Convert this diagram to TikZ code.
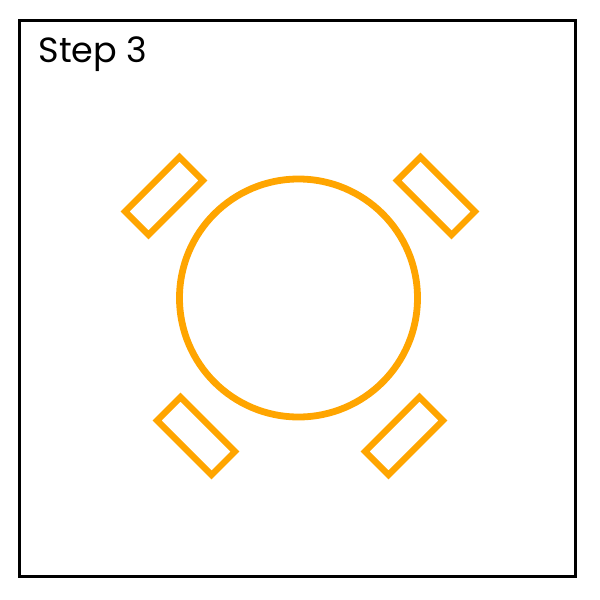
\documentclass[tikz,border=0pt]{standalone}
\usepackage{fontspec}
\setmainfont{Poppins}
\definecolor{tableorange}{RGB}{255,165,0}
\begin{document}
\begin{tikzpicture}[x=1pt,y=-1pt,
  frame/.style={draw=black, line width=2.7pt},
  tablering/.style={circle, draw=tableorange, line width=6.8pt, inner sep=0pt, minimum size=238pt},
  chair/.style={rectangle, draw=tableorange, line width=6.3pt, inner sep=0pt, minimum width=77pt, minimum height=33pt}]
\useasboundingbox (0,0) rectangle (600,600);
\draw[frame] (19.5,20.5) rectangle (575.5,576.3);
\node[anchor=base west, inner sep=0pt, font=\fontsize{35}{42}\selectfont] (title) at (38.5,62.5) {Step 3};
\node[tablering] (table) at (298.5,298) {};
\node[chair, rotate=45] (chairtl) at (164,196) {};
\node[chair, rotate=-45] (chairtr) at (436,196) {};
\node[chair, rotate=-45] (chairbl) at (196,436) {};
\node[chair, rotate=45] (chairbr) at (404,436) {};
\end{tikzpicture}
\end{document}
